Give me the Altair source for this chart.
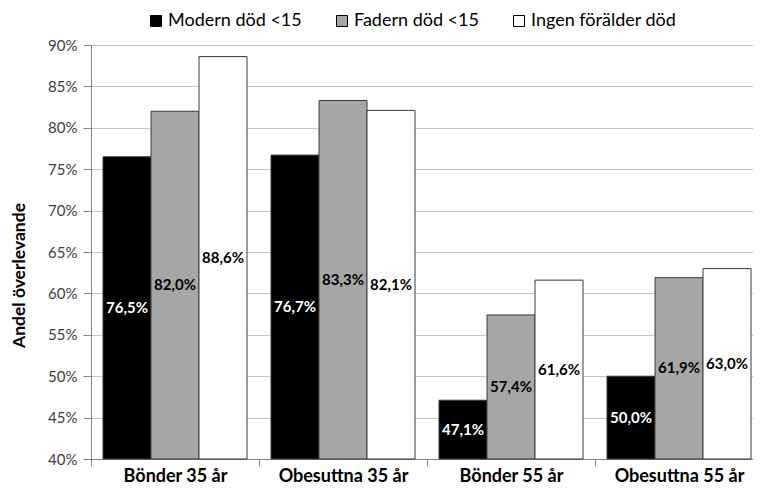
import altair as alt
import pandas as pd

categories = ["Bönder 35 år", "Obesuttna 35 år", "Bönder 55 år", "Obesuttna 55 år"]
series = ["Modern död <15", "Fadern död <15", "Ingen förälder död"]
modern = [76.5, 76.7, 47.1, 50.0]
fadern = [82.0, 83.3, 57.4, 61.9]
ingen = [88.6, 82.1, 61.6, 63.0]
y_ticks = [0.40, 0.45, 0.50, 0.55, 0.60, 0.65, 0.70, 0.75, 0.80, 0.85, 0.90]

rows = []
for s, vals in zip(series, [modern, fadern, ingen]):
    for c, v in zip(categories, vals):
        rows.append({"cat": c, "serie": s, "value": v / 100.0,
                     "label": f"{v:.1f}".replace(".", ",") + "%"})
df = pd.DataFrame(rows)

FONT = "Lato"

x_enc = alt.X(
    "cat:N", sort=categories,
    scale=alt.Scale(range=[0, 672], paddingInner=0, paddingOuter=0),
    axis=alt.Axis(title=None, labelAngle=0, tickBand="extent", tickSize=7,
                  tickColor="#868686", domainColor="#868686", labelFont=FONT,
                  labelFontSize=18, labelFontWeight="bold", labelColor="#000000",
                  labelPadding=1, grid=False),
)
xoff_enc = alt.XOffset("serie:N", sort=series,
                       scale=alt.Scale(paddingInner=0, paddingOuter=0.25))
y_scale = alt.Scale(domain=[0.40, 0.90], zero=False, nice=False)

bars = alt.Chart(df).mark_bar(stroke="#3a3a3a", strokeWidth=1).encode(
    x=x_enc,
    xOffset=xoff_enc,
    y=alt.Y("value:Q", stack=None, scale=y_scale,
            axis=alt.Axis(values=y_ticks, format=".0%", title="Andel överlevande",
                          titleFont=FONT, titleFontSize=17.5, titleFontWeight="bold",
                          titleColor="#000000", titleAngle=-90, titleX=-72, titleY=230,
                          titleAlign="center", titleBaseline="middle",
                          labelFont=FONT, labelFontSize=15, labelColor="#404040",
                          labelPadding=6, tickSize=8, tickColor="#868686",
                          domainColor="#868686", grid=True, gridColor="#C4C4C4")),
    color=alt.Color("serie:N", sort=series,
                    scale=alt.Scale(domain=series, range=["#000000", "#A6A6A6", "#FFFFFF"]),
                    legend=alt.Legend(title=None, orient="none", direction="horizontal",
                                      legendX=56, legendY=-33, symbolType="square",
                                      symbolSize=121, symbolStrokeColor="#000000",
                                      symbolStrokeWidth=1, symbolOpacity=1,
                                      labelFont=FONT, labelFontSize=18, labelLimit=0,
                                      labelColor="#000000", labelOffset=3,
                                      columnPadding=31, padding=0)),
)

labels = alt.Chart(df).transform_calculate(
    mid="datum.value / 2 + 0.2"
).mark_text(font=FONT, fontSize=15, fontWeight="bold", align="center",
            baseline="middle").encode(
    x=x_enc,
    xOffset=xoff_enc,
    y=alt.Y("mid:Q", scale=y_scale),
    text="label:N",
    color=alt.condition(alt.datum.serie == "Modern död <15",
                        alt.value("#FFFFFF"), alt.value("#000000")),
)

chart = alt.layer(bars, labels).properties(
    width=662, height=414,
    padding={"left": 83, "top": 37, "right": 0, "bottom": 29},
    autosize=alt.AutoSizeParams(type="none"),
).configure_view(stroke=None).configure(font=FONT, background="#FFFFFF")

chart.save("out.html", embed_options={"renderer": "svg", "actions": False})
